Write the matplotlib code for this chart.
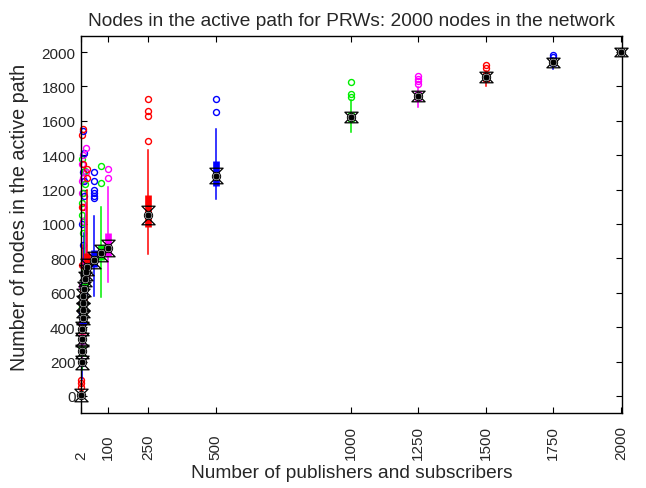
import matplotlib
matplotlib.use("Agg")
import matplotlib.pyplot as plt
import matplotlib.transforms as mtransforms
from matplotlib.path import Path

# group positions (number of publishers and subscribers)
positions = [2, 3, 4, 5, 6, 7, 8, 9, 10, 12, 15, 20, 25, 50, 75, 100,
             250, 500, 1000, 1250, 1500, 1750, 2000]
medians = [5, 195, 260, 330, 390, 455, 500, 540, 580, 620, 680, 720, 750, 790, 830, 860,
           1052, 1281, 1620, 1746, 1855, 1940, 2000]
q1 = [0, 175, 235, 300, 360, 420, 465, 505, 540, 575, 630, 670, 700, 750, 790, 815,
      983, 1223, 1591, 1717, 1826, 1920, 1998]
q3 = [20, 220, 290, 360, 425, 490, 545, 590, 630, 670, 740, 790, 830, 850, 880, 950,
      1169, 1368, 1653, 1775, 1884, 1960, 2000]
notch = [18, 20, 20, 20, 20, 22, 22, 22, 24, 24, 26, 26, 28, 30, 30, 30,
         33, 28, 12, 12, 12, 10, 8]
whisk_lo = [-5, 100, 150, 200, 250, 300, 330, 350, 380, 420, 450, 500, 560, 583, 575, 662,
            826, 1145, 1535, 1680, 1805, 1900, 1996]
whisk_hi = [40, 300, 380, 480, 560, 650, 720, 800, 880, 950, 1050, 1120, 1200, 1048, 1100, 1215,
            1430, 1552, 1723, 1797, 1892, 1965, 2000]
outliers = [
    [55, 75, 95],
    [420, 480, 1000],
    [520, 1050, 1120, 1380],
    [640, 1180, 1250, 1350],
    [760, 1100, 1520],
    [880, 1300, 1540],
    [950, 1010, 1180],
    [1020, 1270, 1400],
    [1100, 1350, 1550],
    [1160, 1250, 1410],
    [1230, 1310],
    [1300, 1440],
    [1270, 1320],
    [1150, 1165, 1180, 1195, 1250, 1305],
    [1240, 1340],
    [1270, 1320],
    [1484, 1628, 1657, 1727],
    [1653, 1727],
    [1740, 1755, 1827],
    [1813, 1830, 1845, 1860],
    [1905, 1925],
    [1972, 1982],
    [],
]
palette = ['#ff0000', '#0000ff', '#00ee00', '#ff00ff']

xticks = [2, 100, 250, 500, 1000, 1250, 1500, 1750, 2000]
yticks = list(range(0, 2001, 200))

plt.rcParams['font.family'] = ['Liberation Sans', 'DejaVu Sans']
txt = '#262626'

# flat notch triangles (wider than tall)
tri_down = Path([(-1, 0.5), (1, 0.5), (0, -0.5), (-1, 0.5)], closed=True)
tri_up = Path([(-1, -0.5), (1, -0.5), (0, 0.5), (-1, -0.5)], closed=True)

fig = plt.figure(figsize=(6.46, 4.89), dpi=100)
ax = fig.add_axes([0.1254, 0.1534, 0.8374, 0.7709])

for i, x in enumerate(positions):
    c = palette[i % 4]
    ax.plot([x, x], [whisk_lo[i], whisk_hi[i]], color=c, lw=1.1, clip_on=False, zorder=2)
    ax.plot([x, x], [q1[i], q3[i]], color=c, lw=4.8, solid_capstyle='butt', clip_on=False, zorder=3)
    if outliers[i]:
        ax.plot([x] * len(outliers[i]), outliers[i], 'o', ms=4.3, mfc='none', mec=c,
                mew=1.0, clip_on=False, zorder=2)
    ax.plot(x, medians[i] + notch[i], marker=tri_down, ms=9.5, mfc='none', mec='black',
            mew=0.9, clip_on=False, zorder=4)
    ax.plot(x, medians[i] - notch[i], marker=tri_up, ms=9.5, mfc='none', mec='black',
            mew=0.9, clip_on=False, zorder=4)
    ax.plot(x, medians[i], 'o', ms=6, mfc='white', mec='black', mew=0.7, clip_on=False, zorder=5)
    ax.plot(x, medians[i], 'o', ms=3.5, mfc='black', mec='black', clip_on=False, zorder=6)

ax.set_xlim(1, 2004)
ax.set_ylim(-99, 2093)
ax.set_xticks(xticks)
ax.set_xticklabels([])
ax.set_yticks(yticks)
ax.tick_params(direction='in', length=4, top=True, right=True, labelsize=11,
               labelcolor=txt, pad=4)
for s in ax.spines.values():
    s.set_linewidth(1.0)

# rotated x tick labels, bottom-aligned like the original
trans = mtransforms.blended_transform_factory(ax.transData, ax.transAxes)
for t in xticks:
    ax.text(t, -0.121, str(t), transform=trans, rotation=90, ha='center', va='bottom',
            fontsize=11, color=txt, clip_on=False)

ax.set_title('Nodes in the active path for PRWs: 2000 nodes in the network',
             fontsize=13.8, color=txt, pad=8)
ax.set_xlabel('Number of publishers and subscribers', fontsize=13.8, color=txt)
ax.xaxis.set_label_coords(0.5, -0.134)
ax.set_ylabel('Number of nodes in the active path', fontsize=14.2, color=txt)
ax.yaxis.set_label_coords(-0.097, 0.522)

fig.savefig('out.png', dpi=100)
